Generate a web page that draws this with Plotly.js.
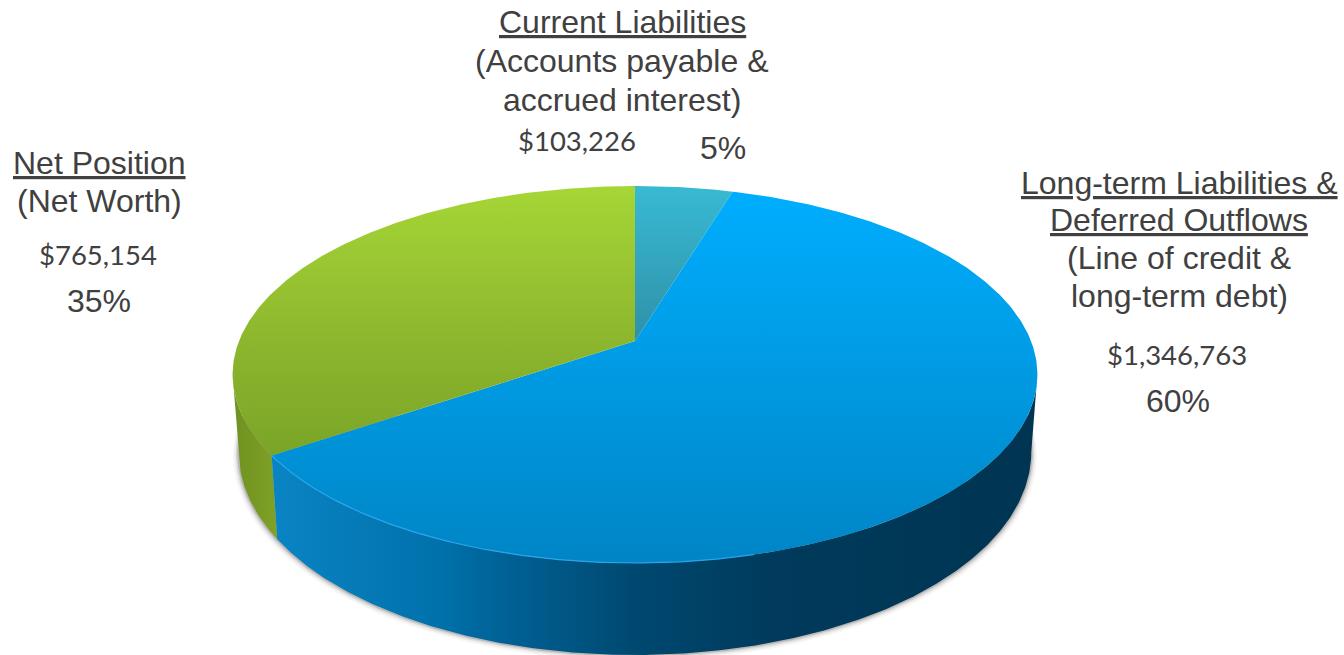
<!DOCTYPE html>
<html>
<head>
<meta charset="utf-8">
<script src="https://cdn.plot.ly/plotly-3.0.1.min.js"></script>
<style>html,body{margin:0;padding:0;background:#fff;overflow:hidden}#chart{width:1344px;height:655px}</style>
</head>
<body>
<div id="chart"></div>
<script>
// Data, clockwise from 12 o'clock
const categories = ["Current Liabilities", "Long-term Liabilities & Deferred Outflows", "Net Position"];
const values = [103226, 1346763, 765154];
const amountLabels = ["$103,226", "$1,346,763", "$765,154"];
const percentLabels = ["5%", "60%", "35%"];

// Perspective disc geometry (axis units = pixels of the view)
const TOP = {cx: 635, cy: 341, a: 396, bFar: 155, bNear: 222};
const BASE = {cx: 635, cy: 416, a: 390, bFar: 167, bNear: 239};
const EDGE_RIGHT = 100.2, EDGE_LEFT = 259.8; // angles of the widest points of each disc

function rim(disc, deg) {
  const k = (disc.bNear - disc.bFar) / (disc.bNear + disc.bFar);
  const b = disc.bFar * (1 + k);
  const r = deg * Math.PI / 180, u = Math.sin(r), v = Math.cos(r), w = 1 + k * v;
  return [disc.cx + disc.a * u / w, disc.cy - b * v / w];
}
function arc(disc, from, to) {
  const n = Math.max(2, Math.ceil(Math.abs(to - from) * 2)), pts = [];
  for (let i = 0; i <= n; i++) pts.push(rim(disc, from + (to - from) * i / n));
  return pts;
}
const total = values.reduce((s, v) => s + v, 0);
const bounds = [0];
values.forEach(v => bounds.push(bounds[bounds.length - 1] + v / total * 360));

function poly(pts, style) {
  return Object.assign({
    type: "scatter", mode: "lines", hoverinfo: "skip", showlegend: false,
    x: pts.map(p => p[0]), y: pts.map(p => p[1]), fill: "toself", line: {width: 0}
  }, style);
}
const grad = (type, start, stop, colors) => ({type, start, stop,
  colorscale: colors.map(c => [c[0], c[1]])});

const traces = [];

// soft shadow under the base
[[6, "rgba(120,120,120,0.05)"], [4.5, "rgba(110,110,110,0.08)"], [3, "rgba(100,95,90,0.14)"], [1.5, "rgba(90,85,80,0.25)"]].forEach(s => {
  const d = Object.assign({}, BASE, {a: BASE.a + s[0] * 0.8, bNear: BASE.bNear + s[0], bFar: BASE.bFar});
  traces.push(poly(arc(d, 90, 270), {fillcolor: s[1]}));
});

// side walls: top rim one way, base rim back, closing on the widest points
const wall = (from, to, style) => poly(arc(TOP, from, to).concat(arc(BASE, to, from)), style);
traces.push(wall(bounds[2], EDGE_LEFT, {fillgradient: grad("horizontal", 232, 280,
  [[0, "#6f9120"], [1, "#7fa227"]])}));
traces.push(wall(EDGE_RIGHT, bounds[2], {fillgradient: grad("horizontal", 271, 1037,
  [[0, "#0a84c4"], [0.22, "#0071ab"], [0.32, "#005f92"], [0.48, "#00486f"], [0.66, "#003a5c"], [1, "#003552"]])}));

// top faces
const apex = [TOP.cx, TOP.cy];
const faceColors = [
  [[0, "#38bad3"], [0.42, "#2f8fa6"], [1, "#2f8fa6"]],
  [[0, "#00aeff"], [0.5, "#009ae2"], [1, "#0085c6"]],
  [[0, "#a6d636"], [0.42, "#8cb62e"], [0.72, "#7aa426"], [1, "#7aa426"]]
];
values.forEach((v, i) => {
  traces.push(poly([apex].concat(arc(TOP, bounds[i], bounds[i + 1]), [apex]), {
    fillgradient: grad("vertical", 186, 563, faceColors[i])
  }));
});

// rim light on the near-left edge of the blue face
const light = arc(TOP, bounds[2] - 70, bounds[2]);
traces.push({type: "scatter", mode: "lines", hoverinfo: "skip", showlegend: false,
  x: light.map(p => p[0]), y: light.map(p => p[1]),
  line: {width: 1.2, color: "#2aa5ea"}});

const TEXT = "#404040", SANS = '"Liberation Sans", Arial, sans-serif', CAL = 'Lato, sans-serif';
const note = (text, x, y, size, family) => ({text, x, y, xref: "x", yref: "y", showarrow: false,
  xanchor: "center", yanchor: "middle", font: {size, family, color: TEXT}});
const SZ = 32, MZ = 27.5;
const annotations = [
  note("<u>" + categories[0] + "</u>", 622, 22, SZ, SANS),
  note("(Accounts payable &", 622, 61, SZ, SANS),
  note("accrued interest)", 622, 100, SZ, SANS),
  note(amountLabels[0], 577, 140, MZ, CAL),
  note(percentLabels[0], 723, 148, SZ, SANS),
  note("<u>" + categories[2] + "</u>", 99, 163, SZ, SANS),
  note("(Net Worth)", 99, 201, SZ, SANS),
  note(amountLabels[2], 98, 254, MZ, CAL),
  note(percentLabels[2], 99, 301, SZ, SANS),
  note("<u>Long-term Liabilities &</u>", 1179, 183, SZ, SANS),
  note("<u>Deferred Outflows</u>", 1179, 220, SZ, SANS),
  note("(Line of credit &", 1179, 258, SZ, SANS),
  note("long-term debt)", 1179, 296, SZ, SANS),
  note(amountLabels[1], 1177, 354, MZ, CAL),
  note(percentLabels[1], 1178, 401, SZ, SANS)
];

const hidden = {visible: false, fixedrange: true};
Plotly.newPlot("chart", traces, {
  width: 1344, height: 655, margin: {l: 0, r: 0, t: 0, b: 0},
  paper_bgcolor: "#fff", plot_bgcolor: "#fff", showlegend: false, hovermode: false,
  font: {family: SANS},
  xaxis: Object.assign({range: [0, 1344]}, hidden),
  yaxis: Object.assign({range: [655, 0]}, hidden),
  annotations
}, {displayModeBar: false, staticPlot: true});
</script>
</body>
</html>
